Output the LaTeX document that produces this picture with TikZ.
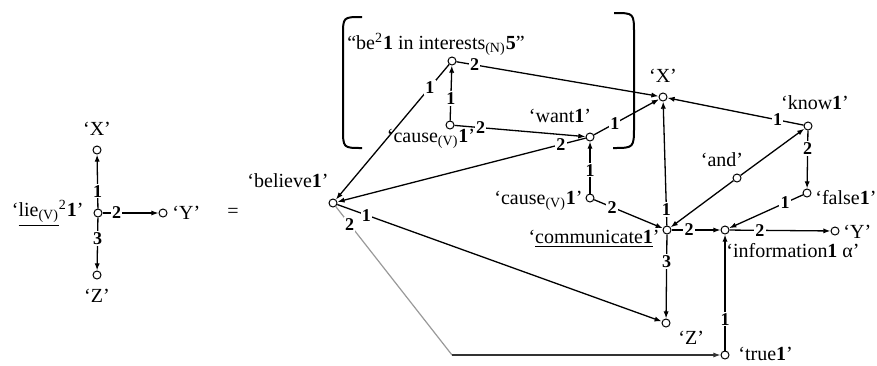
\documentclass[tikz,border=0pt]{standalone}
\usepackage{fontspec}
\setmainfont{Liberation Serif}
\usetikzlibrary{arrows.meta}

\begin{document}
\begin{tikzpicture}[x=0.5pt,y=-0.5pt,
    pt/.style={circle,draw,line width=0.5pt,inner sep=0pt,minimum size=4pt},
    arc/.style={line width=0.65pt,-{Latex[length=3.6pt,width=2.6pt]}},
    num/.style={fill=white,inner sep=0.6pt,font=\small\bfseries},
    word/.style={inner sep=1pt}]
  \useasboundingbox (0,0) rectangle (877,365);
  % points of the two networks
  \foreach \name/\x/\y in {lie/98/213, lX/97/150, lY/163/213, lZ/97/275,
      believe/333/203, be/452/61, causea/450/125, want/590/137, nX/663/97,
      know/808/126, and/737/178, false/807/193, causeb/590/198, comm/667/230,
      info/725/230, nY/835/231, nZ/666/323, true/725/355}
    \node[pt] (\name) at (\x,\y) {};
  % numbered arcs
  \foreach \a/\b/\p/\l in {lie/lX/0.32/1, lie/lY/0.25/2, lie/lZ/0.4/3,
      be/believe/0.17/1, be/nX/0.09/2, causea/be/0.4/1, causea/want/0.2/2,
      want/nX/0.32/1, want/believe/0.1/2, know/nX/0.19/1, know/false/0.31/2,
      false/info/0.24/1, causeb/want/0.45/1, causeb/comm/0.26/2,
      comm/nX/0.13/1, comm/info/0.36/2, comm/nZ/0.32/3, info/nY/0.3/2,
      true/info/0.27/1, believe/nZ/0.09/1}
    \draw[arc] (\a) -- node[num,pos=\p] {\l} (\b);
  \draw[arc] (and) -- (know);
  \draw[arc] (and) -- (comm);
  \coordinate (bend) at (452,355);
  \draw[line width=0.6pt,black!40] (believe) -- node[num,pos=0.12,text=black] {2} (bend);
  \draw[arc,black!80] (bend) -- (true);
  % the bracket
  \draw[line width=1pt] (362,17) .. controls (343,17) .. (343,36) -- (343,128)
    .. controls (343,148) .. (362,148);
  \draw[line width=1pt] (614,13) .. controls (634,13) .. (634,34) -- (634,126)
    .. controls (634,148) .. (613,148);
  % words
  \node[word,anchor=east] (lielbl) at (86,213)
    {‘\underline{lie\textsubscript{(V)}}\textsuperscript{2}\textbf{1}’};
  \node[word] (lXlbl) at (97,129) {‘X’};
  \node[word,anchor=west] (lYlbl) at (170,213) {‘Y’};
  \node[word] (lZlbl) at (97,296) {‘Z’};
  \node[word] (eq) at (233,213) {=};
  \node[word] (believelbl) at (288,181) {‘believe\textbf{1}’};
  \node[word] (belbl) at (436,44)
    {“be\textsuperscript{2}\textbf{1} in interests\textsubscript{(N)}\textbf{5}”};
  \node[word] (causealbl) at (431,139) {‘cause\textsubscript{(V)}\textbf{1}’};
  \node[word] (wantlbl) at (560,116) {‘want\textbf{1}’};
  \node[word] (nXlbl) at (663,76) {‘X’};
  \node[word] (knowlbl) at (815,103) {‘know\textbf{1}’};
  \node[word] (andlbl) at (722,160) {‘and’};
  \node[word,anchor=west] (falselbl) at (813,198) {‘false\textbf{1}’};
  \node[word,anchor=east] (causeblbl) at (585,201) {‘cause\textsubscript{(V)}\textbf{1}’};
  \node[word,anchor=east] (commlbl) at (662,239) {‘\underline{communicate\textbf{1}}’};
  \node[word,anchor=west] (infolbl) at (724,251) {‘information\textbf{1} α’};
  \node[word,anchor=west] (nYlbl) at (841,232) {‘Y’};
  \node[word,anchor=west] (nZlbl) at (676,338) {‘Z’};
  \node[word,anchor=west] (truelbl) at (736,354) {‘true\textbf{1}’};
\end{tikzpicture}
\end{document}
